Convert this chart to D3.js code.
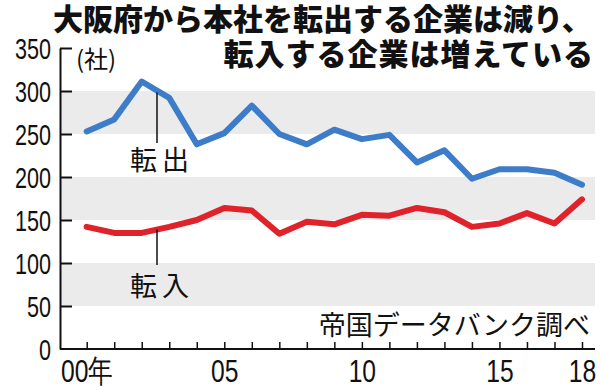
<!DOCTYPE html>
<html>
<head>
<meta charset="utf-8">
<script src="https://cdn.jsdelivr.net/npm/d3@7"></script>
<style>
  body { margin: 0; background: #fff; }
  svg { display: block; }
</style>
</head>
<body>
<div id="chart"></div>
<script>
// years and values (companies per year)
var years = d3.range(2000, 2019);
var tenshutsu = [253, 267, 311, 292, 238, 251, 283, 250, 238, 255, 244, 249, 217, 231, 198, 209, 209, 205, 191];
var tennyu = [142, 135, 135, 142, 150, 164, 161, 134, 148, 145, 156, 155, 164, 159, 142, 146, 158, 146, 174];
var yTicks = [0, 50, 100, 150, 200, 250, 300, 350];
var xLabels = {2000: "00年", 2005: "05", 2010: "10", 2015: "15", 2018: "18"};
var bands = [[50, 100], [150, 200], [250, 300]];

var svgWidth = 600, svgHeight = 387;
var jp = "'Noto Sans CJK JP', 'Noto Sans', sans-serif";
var num = "'Liberation Sans', Arial, sans-serif";

var svg = d3.select("#chart").append("svg")
    .attr("width", svgWidth)
    .attr("height", svgHeight);

var x = d3.scaleLinear().domain([2000, 2018]).range([86.7, 582]);
var y = d3.scaleLinear().domain([0, 350]).range([349, 48]);

// grey bands
svg.selectAll("rect.band")
    .data(bands)
    .enter().append("rect")
    .attr("class", "band")
    .attr("x", 61)
    .attr("width", 595 - 61)
    .attr("y", d => y(d[1]))
    .attr("height", d => y(d[0]) - y(d[1]))
    .attr("fill", "#ebebeb");

// y axis: ticks point inward, labels condensed on the left
var yAxis = svg.append("g")
    .attr("transform", "translate(60,0)")
    .call(d3.axisLeft(y).tickValues(yTicks).tickSize(-12).tickSizeOuter(0));
yAxis.select(".domain").attr("stroke", "#111").attr("stroke-width", 2);
yAxis.selectAll(".tick line").attr("stroke", "#111").attr("stroke-width", 2)
    .attr("display", d => d === 0 ? "none" : null);
yAxis.selectAll(".tick text")
    .attr("x", 0).attr("dy", null).attr("y", 10.5)
    .attr("transform", "translate(-9,0) scale(0.72,1)")
    .attr("font-family", num).attr("font-size", 30).attr("fill", "#111");

// x axis
var xAxis = svg.append("g")
    .attr("transform", "translate(0,349)")
    .call(d3.axisBottom(x).tickValues(years).tickSize(-7).tickSizeOuter(0)
        .tickFormat(d => xLabels[d] || ""));
xAxis.select(".domain").attr("d", "M60,0H595").attr("stroke", "#111").attr("stroke-width", 2);
xAxis.selectAll(".tick line").attr("stroke", "#111").attr("stroke-width", 1.5);
xAxis.selectAll(".tick text")
    .attr("y", 0).attr("dy", null)
    .attr("transform", "translate(0,32.5) scale(0.77,1)")
    .attr("font-family", num).attr("font-size", 32).attr("fill", "#111");

// unit
svg.append("text")
    .attr("x", 76).attr("y", 68)
    .attr("font-family", jp).attr("font-size", 24).attr("fill", "#111")
    .text("(社)");

// lines
var line = d3.line()
    .x((d, i) => x(years[i]))
    .y(d => y(d));

svg.append("path")
    .datum(tenshutsu)
    .attr("d", line)
    .attr("fill", "none")
    .attr("stroke", "#3d7cc8")
    .attr("stroke-width", 6)
    .attr("stroke-linejoin", "round")
    .attr("stroke-linecap", "round");

svg.append("path")
    .datum(tennyu)
    .attr("d", line)
    .attr("fill", "none")
    .attr("stroke", "#e0222b")
    .attr("stroke-width", 6)
    .attr("stroke-linejoin", "round")
    .attr("stroke-linecap", "round");

// leader lines start where each line crosses x = 157
var leadX = 157;
var t = x.invert(leadX) - 2002;
var outAt = tenshutsu[2] + (tenshutsu[3] - tenshutsu[2]) * t;
var inAt = tennyu[2] + (tennyu[3] - tennyu[2]) * t;

svg.append("line")
    .attr("x1", leadX).attr("x2", leadX)
    .attr("y1", y(outAt) + 2).attr("y2", 143)
    .attr("stroke", "#111").attr("stroke-width", 1.5);
svg.append("line")
    .attr("x1", leadX).attr("x2", leadX)
    .attr("y1", y(inAt)).attr("y2", 265)
    .attr("stroke", "#111").attr("stroke-width", 1.5);

svg.append("text")
    .attr("x", 162).attr("y", 170)
    .attr("text-anchor", "middle")
    .attr("font-family", jp).attr("font-size", 27).attr("letter-spacing", 5)
    .attr("fill", "#111")
    .text("転出");
svg.append("text")
    .attr("x", 162).attr("y", 296)
    .attr("text-anchor", "middle")
    .attr("font-family", jp).attr("font-size", 27).attr("letter-spacing", 5)
    .attr("fill", "#111")
    .text("転入");

// source
svg.append("text")
    .attr("x", 590).attr("y", 335)
    .attr("text-anchor", "end")
    .attr("font-family", jp).attr("font-size", 27).attr("fill", "#111")
    .text("帝国データバンク調べ");

// title
svg.append("text")
    .attr("x", 53).attr("y", 30)
    .attr("font-family", jp).attr("font-size", 30).attr("font-weight", 900)
    .attr("fill", "#111")
    .text("大阪府から本社を転出する企業は減り、");
svg.append("text")
    .attr("x", 594).attr("y", 65)
    .attr("text-anchor", "end")
    .attr("font-family", jp).attr("font-size", 30).attr("font-weight", 900)
    .attr("letter-spacing", 1)
    .attr("fill", "#111")
    .text("転入する企業は増えている");
</script>
</body>
</html>
